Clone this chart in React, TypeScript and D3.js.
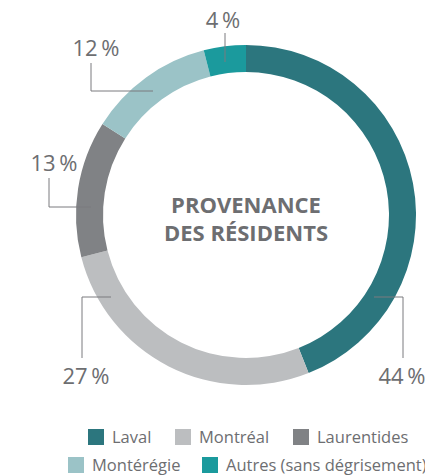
import React, { useEffect, useRef } from 'react'
import * as d3 from 'd3'

const categories = ['Laval', 'Montréal', 'Laurentides', 'Montérégie', 'Autres (sans dégrisement)']
const shares = [44, 27, 13, 12, 4]
const colors = ['#2c767e', '#bcbec0', '#808285', '#9bc3c7', '#1b9a9d']
const titleLines = ['PROVENANCE', 'DES RÉSIDENTS']

// leader layout: [inner end x, y], elbow, label anchor
const leaders = [
  { pts: [[374, 297], [403, 297], [403, 358]], tx: 402, ty: 384, anchor: 'middle' },
  { pts: [[111, 297], [82, 297], [82, 358]], tx: 86, ty: 384, anchor: 'middle' },
  { pts: [[91, 207], [49, 207], [49, 178]], tx: 54, ty: 171, anchor: 'middle' },
  { pts: [[153, 91], [91, 91], [91, 63]], tx: 96, ty: 56, anchor: 'middle' },
  { pts: [[225, 62], [225, 33]], tx: 223, ty: 28, anchor: 'middle' },
]

const W = 425
const H = 475
const cx = 246
const cy = 215
const rOuter = 170
const rInner = 143
const textGrey = '#6d6e71'
const font = "'Open Sans', sans-serif"

function drawDonut(el: SVGSVGElement) {
  const svg = d3.select(el)
  svg.selectAll('*').remove()

  const pie = d3.pie<number>().sort(null).value(d => d)
  const arc = d3.arc<d3.PieArcDatum<number>>().innerRadius(rInner).outerRadius(rOuter)

  const g = svg.append('g').attr('transform', `translate(${cx},${cy})`)
  g.selectAll('path')
    .data(pie(shares))
    .enter()
    .append('path')
    .attr('d', arc)
    .attr('fill', (d, i) => colors[i])

  // leader lines + percentages
  const line = d3.line()
  leaders.forEach((l, i) => {
    svg.append('path')
      .attr('d', line(l.pts as [number, number][]))
      .attr('fill', 'none')
      .attr('stroke', '#7a7b7e')
      .attr('stroke-width', 1)
    svg.append('text')
      .attr('x', l.tx)
      .attr('y', l.ty)
      .attr('text-anchor', l.anchor)
      .attr('font-family', font)
      .attr('font-weight', 400)
      .attr('font-size', 22)
      .attr('fill', textGrey)
      .text(`${shares[i]}\u2009%`)
  })

  // centre title
  titleLines.forEach((t, i) => {
    svg.append('text')
      .attr('x', cx)
      .attr('y', 213 + i * 28)
      .attr('text-anchor', 'middle')
      .attr('font-family', font)
      .attr('font-weight', 700)
      .attr('font-size', 22)
      .attr('fill', textGrey)
      .text(t)
  })

  // legend (last item runs off the right edge, as in the original)
  const rows = [[0, 1, 2], [3, 4]]
  const rowX = [88, 68]
  const rowGap = [[0, 87, 205], [0, 134]]
  rows.forEach((row, r) => {
    const y = 429 + r * 28
    row.forEach((idx, k) => {
      const x = rowX[r] + rowGap[r][k]
      svg.append('rect')
        .attr('x', x).attr('y', y)
        .attr('width', 16).attr('height', 16)
        .attr('fill', colors[idx])
      svg.append('text')
        .attr('x', x + 24)
        .attr('y', y + 14)
        .attr('font-family', font)
        .attr('font-size', 16.5)
        .attr('fill', textGrey)
        .text(categories[idx])
    })
  })
}

const App = () => {
  const ref = useRef<SVGSVGElement>(null)
  useEffect(() => {
    if (ref.current) drawDonut(ref.current)
  })
  return (
    <svg
      ref={ref}
      width={W}
      height={H}
      style={{ position: 'absolute', left: 0, top: 0, background: '#fff' }}
    />
  )
}

export default App
